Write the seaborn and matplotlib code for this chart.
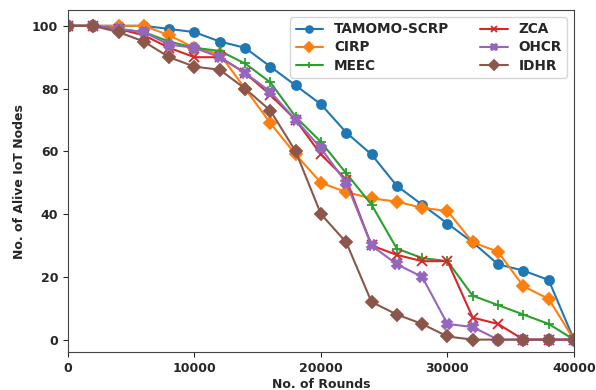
import pandas as pd
import numpy as np
import matplotlib
matplotlib.use('Agg')
import matplotlib.pyplot as plt
import seaborn as sns

# rounds and alive nodes per protocol
rounds = list(range(0, 40001, 2000))
tamomo = [100, 100, 100, 100, 99, 98, 95, 93, 87, 81, 75, 66, 59, 49, 43, 37, 31, 24, 22, 19, 0]
cirp = [100, 100, 100, 100, 97, 93, 91, 80, 69, 59, 50, 47, 45, 44, 42, 41, 31, 28, 17, 13, 0]
meec = [100, 100, 99, 98, 95, 93, 92, 88, 82, 71, 63, 53, 43, 29, 26, 25, 14, 11, 8, 5, 0]
zca = [100, 100, 99, 97, 93, 90, 90, 85, 78, 70, 59, 51, 30, 27, 25, 25, 7, 5, 0, 0, 0]
ohcr = [100, 100, 99, 98, 94, 93, 90, 85, 79, 70, 61, 50, 30, 24, 20, 5, 4, 0, 0, 0, 0]
idhr = [100, 100, 98, 95, 90, 87, 86, 80, 73, 60, 40, 31, 12, 8, 5, 1, 0, 0, 0, 0, 0]

names = ['TAMOMO-SCRP', 'CIRP', 'MEEC', 'ZCA', 'OHCR', 'IDHR']
series = [tamomo, cirp, meec, zca, ohcr, idhr]
markers = ['o', 'D', '+', 'x', 'X', 'D']
colors = sns.color_palette('tab10', 6)

sns.set_style('ticks')
plt.rcParams['font.family'] = ['DejaVu Sans']
plt.rcParams['font.weight'] = 'bold'

fig = plt.figure(figsize=(5.96, 3.9), dpi=100)
ax = fig.add_axes([0.114, 0.097, 0.849, 0.877])

for name, vals, m, c in zip(names, series, markers, colors):
    sns.lineplot(x=rounds, y=vals, marker=m, color=c, label=name,
                 markersize=6.5, markeredgewidth=1.3, markeredgecolor=c,
                 linewidth=1.5, ax=ax)

ax.set_xlim(0, 40000)
ax.set_ylim(-4, 105)
ax.set_xticks([0, 10000, 20000, 30000, 40000])
ax.set_yticks([0, 20, 40, 60, 80, 100])
ax.set_xlabel('No. of Rounds', fontweight='bold', fontsize=9, labelpad=2)
ax.set_ylabel('No. of Alive IoT Nodes', fontweight='bold', fontsize=9)
ax.tick_params(labelsize=9)
for lab in ax.get_xticklabels() + ax.get_yticklabels():
    lab.set_fontweight('bold')
for sp in ax.spines.values():
    sp.set_visible(True)
    sp.set_color('#444444')

leg = ax.legend(ncol=2, loc='upper right', prop={'weight': 'bold', 'size': 9.8},
                columnspacing=2.3, markerscale=0.75, labelspacing=0.3)

fig.savefig('out.png', dpi=100)
